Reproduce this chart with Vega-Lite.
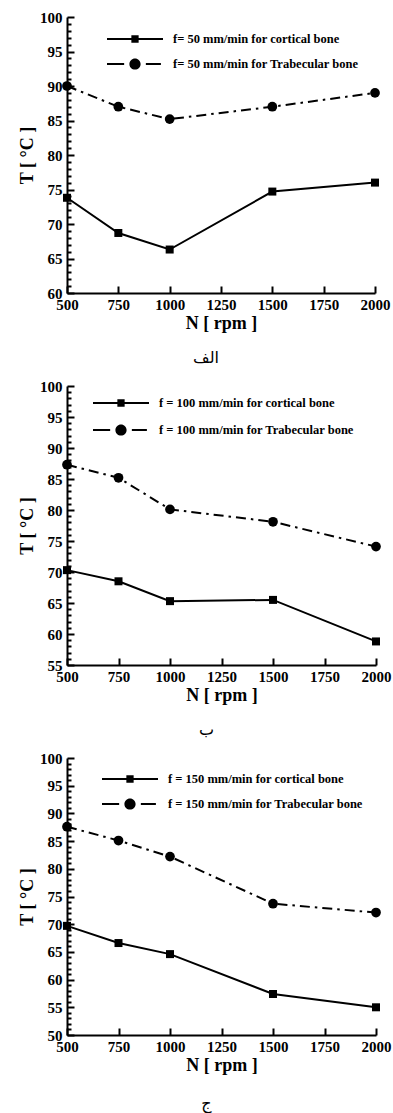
{
  "$schema": "https://vega.github.io/schema/vega-lite/v6.json",
  "background": "white",
  "padding": {"left": 18, "top": 10, "right": 5, "bottom": 2},
  "spacing": 13,
  "config": {
    "view": {"stroke": null},
    "axis": {"labelFont": "Liberation Serif", "labelFontSize": 15, "labelFontWeight": "bold", "labelColor": "black", "titleFont": "Liberation Serif", "titleFontSize": 18, "titleFontWeight": "bold", "titleColor": "black", "domainColor": "black", "domainWidth": 2, "tickColor": "black", "tickWidth": 2, "grid": false, "format": "d"},
    "legend": {"labelFont": "Liberation Serif", "labelFontSize": 12.5, "labelFontWeight": "bold", "labelColor": "black", "labelLimit": 400, "symbolSize": 196, "symbolStrokeWidth": 0, "symbolFillColor": "black", "symbolOpacity": 1, "labelOffset": 31, "rowPadding": 11, "padding": 0, "title": null},
    "title": {"font": "DejaVu Sans", "fontSize": 16, "fontWeight": "normal", "color": "black", "orient": "bottom", "anchor": "middle", "frame": "group"}
  },
  "resolve": {"scale": {"shape": "independent"}, "legend": {"shape": "independent"}},
  "datasets": {
    "p1": [
      {"N": 500, "T": 73.8, "bone": "cortical", "series": "f= 50 mm/min for cortical bone"},
      {"N": 750, "T": 68.7, "bone": "cortical", "series": "f= 50 mm/min for cortical bone"},
      {"N": 1000, "T": 66.3, "bone": "cortical", "series": "f= 50 mm/min for cortical bone"},
      {"N": 1500, "T": 74.7, "bone": "cortical", "series": "f= 50 mm/min for cortical bone"},
      {"N": 2000, "T": 76.0, "bone": "cortical", "series": "f= 50 mm/min for cortical bone"},
      {"N": 500, "T": 90.0, "bone": "trabecular", "series": "f= 50 mm/min for Trabecular  bone"},
      {"N": 750, "T": 87.0, "bone": "trabecular", "series": "f= 50 mm/min for Trabecular  bone"},
      {"N": 1000, "T": 85.2, "bone": "trabecular", "series": "f= 50 mm/min for Trabecular  bone"},
      {"N": 1500, "T": 87.0, "bone": "trabecular", "series": "f= 50 mm/min for Trabecular  bone"},
      {"N": 2000, "T": 89.0, "bone": "trabecular", "series": "f= 50 mm/min for Trabecular  bone"}
    ],
    "p2": [
      {"N": 500, "T": 70.3, "bone": "cortical", "series": "f = 100 mm/min for cortical bone"},
      {"N": 750, "T": 68.5, "bone": "cortical", "series": "f = 100 mm/min for cortical bone"},
      {"N": 1000, "T": 65.3, "bone": "cortical", "series": "f = 100 mm/min for cortical bone"},
      {"N": 1500, "T": 65.5, "bone": "cortical", "series": "f = 100 mm/min for cortical bone"},
      {"N": 2000, "T": 58.8, "bone": "cortical", "series": "f = 100 mm/min for cortical bone"},
      {"N": 500, "T": 87.3, "bone": "trabecular", "series": "f = 100 mm/min for Trabecular  bone"},
      {"N": 750, "T": 85.2, "bone": "trabecular", "series": "f = 100 mm/min for Trabecular  bone"},
      {"N": 1000, "T": 80.1, "bone": "trabecular", "series": "f = 100 mm/min for Trabecular  bone"},
      {"N": 1500, "T": 78.1, "bone": "trabecular", "series": "f = 100 mm/min for Trabecular  bone"},
      {"N": 2000, "T": 74.1, "bone": "trabecular", "series": "f = 100 mm/min for Trabecular  bone"}
    ],
    "p3": [
      {"N": 500, "T": 69.7, "bone": "cortical", "series": "f = 150 mm/min for cortical bone"},
      {"N": 750, "T": 66.6, "bone": "cortical", "series": "f = 150 mm/min for cortical bone"},
      {"N": 1000, "T": 64.6, "bone": "cortical", "series": "f = 150 mm/min for cortical bone"},
      {"N": 1500, "T": 57.4, "bone": "cortical", "series": "f = 150 mm/min for cortical bone"},
      {"N": 2000, "T": 55.0, "bone": "cortical", "series": "f = 150 mm/min for cortical bone"},
      {"N": 500, "T": 87.6, "bone": "trabecular", "series": "f = 150 mm/min for Trabecular  bone"},
      {"N": 750, "T": 85.1, "bone": "trabecular", "series": "f = 150 mm/min for Trabecular  bone"},
      {"N": 1000, "T": 82.2, "bone": "trabecular", "series": "f = 150 mm/min for Trabecular  bone"},
      {"N": 1500, "T": 73.7, "bone": "trabecular", "series": "f = 150 mm/min for Trabecular  bone"},
      {"N": 2000, "T": 72.1, "bone": "trabecular", "series": "f = 150 mm/min for Trabecular  bone"}
    ]
  },
  "vconcat": [
    {
      "width": 308, "height": 276,
      "data": {"name": "p1"},
      "title": {"text": "الف", "offset": 18, "dx": -15},
      "resolve": {"axis": {"y": "independent"}},
      "encoding": {
        "x": {"field": "N", "type": "quantitative", "scale": {"domain": [500, 2000], "nice": false, "zero": false}, "axis": {"values": [500, 750, 1000, 1250, 1500, 1750, 2000], "tickSize": -7, "labelPadding": 11, "labelFlush": false, "labelOverlap": false, "title": "N [ rpm ]", "titlePadding": 2}}
      },
      "layer": [
        {"transform": [{"filter": "datum.bone == 'cortical'"}], "mark": {"type": "line", "color": "black", "strokeWidth": 2},
         "encoding": {"y": {"field": "T", "type": "quantitative", "scale": {"domain": [60, 100], "nice": false, "zero": false}, "axis": {"values": [60, 65, 70, 75, 80, 85, 90, 95, 100], "tickSize": -7, "labelPadding": 12, "labelOverlap": false, "title": "T [ °C ]", "titlePadding": 3}}}},
        {"transform": [{"filter": "datum.bone == 'trabecular'"}], "mark": {"type": "line", "color": "black", "strokeWidth": 2, "strokeDash": [10, 5, 2.5, 5]},
         "encoding": {"y": {"field": "T", "type": "quantitative", "scale": {"domain": [60, 100], "nice": false, "zero": false}, "axis": null}}},
        {"transform": [{"filter": "datum.bone == 'cortical'"}], "mark": {"type": "point", "shape": "square", "filled": true, "color": "black", "size": 64, "opacity": 1},
         "encoding": {"y": {"field": "T", "type": "quantitative", "scale": {"domain": [60, 100], "nice": false, "zero": false}, "axis": null}}},
        {"transform": [{"filter": "datum.bone == 'trabecular'"}], "mark": {"type": "point", "shape": "circle", "filled": true, "color": "black", "size": 95, "opacity": 1},
         "encoding": {"y": {"field": "T", "type": "quantitative", "scale": {"domain": [60, 100], "nice": false, "zero": false}, "axis": null}}},
        {"mark": {"type": "point", "filled": true, "color": "black", "opacity": 0},
         "encoding": {
           "y": {"field": "T", "type": "quantitative", "scale": {"domain": [60, 100], "nice": false, "zero": false}, "axis": {"orient": "left", "values": [61,62,63,64,66,67,68,69,71,72,73,74,76,77,78,79,81,82,83,84,86,87,88,89,91,92,93,94,96,97,98,99], "tickSize": -4, "labels": false, "domain": false, "title": null}},
           "shape": {"field": "series", "type": "nominal", "scale": {"domain": ["f= 50 mm/min for cortical bone", "f= 50 mm/min for Trabecular  bone"], "range": ["M-4,-0.143H4V0.143H-4ZM-0.52,-0.52H0.52V0.52H-0.52Z", "M-4,-0.143H-1.55V0.143H-4ZM1.55,-0.143H3.7V0.143H1.55ZM0.8,0A0.8,0.8 0 1,1 -0.8,0A0.8,0.8 0 1,1 0.8,0Z"]},
             "legend": {"orient": "none", "legendX": 61, "legendY": 15}}
         }}
      ]
    },
    {
      "width": 309, "height": 279,
      "data": {"name": "p2"},
      "title": {"text": "ب", "offset": 18, "dx": -15},
      "resolve": {"axis": {"y": "independent"}},
      "encoding": {
        "x": {"field": "N", "type": "quantitative", "scale": {"domain": [500, 2000], "nice": false, "zero": false}, "axis": {"values": [500, 750, 1000, 1250, 1500, 1750, 2000], "tickSize": -7, "labelPadding": 11, "labelFlush": false, "labelOverlap": false, "title": "N [ rpm ]", "titlePadding": 2}}
      },
      "layer": [
        {"transform": [{"filter": "datum.bone == 'cortical'"}], "mark": {"type": "line", "color": "black", "strokeWidth": 2},
         "encoding": {"y": {"field": "T", "type": "quantitative", "scale": {"domain": [55, 100], "nice": false, "zero": false}, "axis": {"values": [55, 60, 65, 70, 75, 80, 85, 90, 95, 100], "tickSize": -7, "labelPadding": 12, "labelOverlap": false, "title": "T [ °C ]", "titlePadding": 3}}}},
        {"transform": [{"filter": "datum.bone == 'trabecular'"}], "mark": {"type": "line", "color": "black", "strokeWidth": 2, "strokeDash": [10, 5, 2.5, 5]},
         "encoding": {"y": {"field": "T", "type": "quantitative", "scale": {"domain": [55, 100], "nice": false, "zero": false}, "axis": null}}},
        {"transform": [{"filter": "datum.bone == 'cortical'"}], "mark": {"type": "point", "shape": "square", "filled": true, "color": "black", "size": 64, "opacity": 1},
         "encoding": {"y": {"field": "T", "type": "quantitative", "scale": {"domain": [55, 100], "nice": false, "zero": false}, "axis": null}}},
        {"transform": [{"filter": "datum.bone == 'trabecular'"}], "mark": {"type": "point", "shape": "circle", "filled": true, "color": "black", "size": 95, "opacity": 1},
         "encoding": {"y": {"field": "T", "type": "quantitative", "scale": {"domain": [55, 100], "nice": false, "zero": false}, "axis": null}}},
        {"mark": {"type": "point", "filled": true, "color": "black", "opacity": 0},
         "encoding": {
           "y": {"field": "T", "type": "quantitative", "scale": {"domain": [55, 100], "nice": false, "zero": false}, "axis": {"orient": "left", "values": [56,57,58,59,61,62,63,64,66,67,68,69,71,72,73,74,76,77,78,79,81,82,83,84,86,87,88,89,91,92,93,94,96,97,98,99], "tickSize": -4, "labels": false, "domain": false, "title": null}},
           "shape": {"field": "series", "type": "nominal", "scale": {"domain": ["f = 100 mm/min for cortical bone", "f = 100 mm/min for Trabecular  bone"], "range": ["M-4,-0.143H4V0.143H-4ZM-0.52,-0.52H0.52V0.52H-0.52Z", "M-4,-0.143H-1.55V0.143H-4ZM1.55,-0.143H3.7V0.143H1.55ZM0.8,0A0.8,0.8 0 1,1 -0.8,0A0.8,0.8 0 1,1 0.8,0Z"]},
             "legend": {"orient": "none", "legendX": 47, "legendY": 10, "rowPadding": 13}}
         }}
      ]
    },
    {
      "width": 309, "height": 277,
      "data": {"name": "p3"},
      "title": {"text": "ج", "offset": 22, "dx": -15},
      "resolve": {"axis": {"y": "independent"}},
      "encoding": {
        "x": {"field": "N", "type": "quantitative", "scale": {"domain": [500, 2000], "nice": false, "zero": false}, "axis": {"values": [500, 750, 1000, 1250, 1500, 1750, 2000], "tickSize": -7, "labelPadding": 11, "labelFlush": false, "labelOverlap": false, "title": "N [ rpm ]", "titlePadding": 2}}
      },
      "layer": [
        {"transform": [{"filter": "datum.bone == 'cortical'"}], "mark": {"type": "line", "color": "black", "strokeWidth": 2},
         "encoding": {"y": {"field": "T", "type": "quantitative", "scale": {"domain": [50, 100], "nice": false, "zero": false}, "axis": {"values": [50, 55, 60, 65, 70, 75, 80, 85, 90, 95, 100], "tickSize": -7, "labelPadding": 12, "labelOverlap": false, "title": "T [ °C ]", "titlePadding": 3}}}},
        {"transform": [{"filter": "datum.bone == 'trabecular'"}], "mark": {"type": "line", "color": "black", "strokeWidth": 2, "strokeDash": [10, 5, 2.5, 5]},
         "encoding": {"y": {"field": "T", "type": "quantitative", "scale": {"domain": [50, 100], "nice": false, "zero": false}, "axis": null}}},
        {"transform": [{"filter": "datum.bone == 'cortical'"}], "mark": {"type": "point", "shape": "square", "filled": true, "color": "black", "size": 64, "opacity": 1},
         "encoding": {"y": {"field": "T", "type": "quantitative", "scale": {"domain": [50, 100], "nice": false, "zero": false}, "axis": null}}},
        {"transform": [{"filter": "datum.bone == 'trabecular'"}], "mark": {"type": "point", "shape": "circle", "filled": true, "color": "black", "size": 95, "opacity": 1},
         "encoding": {"y": {"field": "T", "type": "quantitative", "scale": {"domain": [50, 100], "nice": false, "zero": false}, "axis": null}}},
        {"mark": {"type": "point", "filled": true, "color": "black", "opacity": 0},
         "encoding": {
           "y": {"field": "T", "type": "quantitative", "scale": {"domain": [50, 100], "nice": false, "zero": false}, "axis": {"orient": "left", "values": [51,52,53,54,56,57,58,59,61,62,63,64,66,67,68,69,71,72,73,74,76,77,78,79,81,82,83,84,86,87,88,89,91,92,93,94,96,97,98,99], "tickSize": -4, "labels": false, "domain": false, "title": null}},
           "shape": {"field": "series", "type": "nominal", "scale": {"domain": ["f = 150 mm/min for cortical bone", "f = 150 mm/min for Trabecular  bone"], "range": ["M-4,-0.143H4V0.143H-4ZM-0.52,-0.52H0.52V0.52H-0.52Z", "M-4,-0.143H-1.55V0.143H-4ZM1.55,-0.143H3.7V0.143H1.55ZM0.8,0A0.8,0.8 0 1,1 -0.8,0A0.8,0.8 0 1,1 0.8,0Z"]},
             "legend": {"orient": "none", "legendX": 56, "legendY": 14}}
         }}
      ]
    }
  ]
}
